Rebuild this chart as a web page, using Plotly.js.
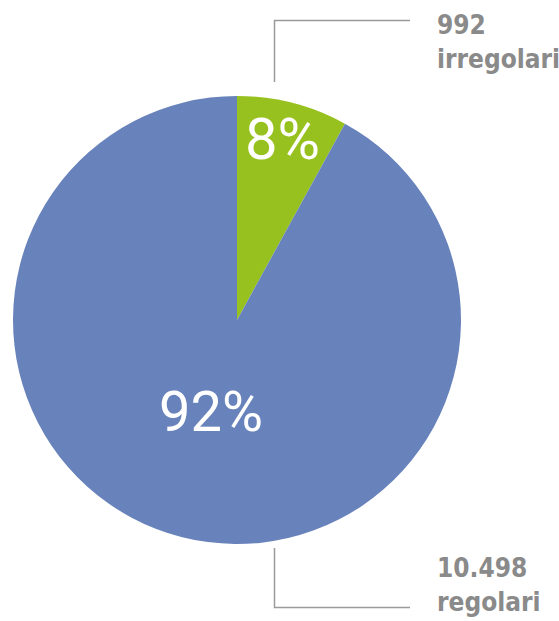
<!DOCTYPE html>
<html>
<head>
<meta charset="utf-8">
<script src="https://cdn.plot.ly/plotly-3.0.1.min.js"></script>
<style>html,body{margin:0;padding:0;background:#fff}#chart{width:559px;height:621px}</style>
</head>
<body>
<div id="chart"></div>
<script>
// Data
const categories = ['irregolari', 'regolari'];
const shares = [8, 92];              // percentage shares as drawn
const countLabels = ['992', '10.498'];
const pctLabels = ['8%', '92%'];
const colors = ['#97c11f', '#6882bb'];

const W = 559, H = 621;
const px = x => x / W;
const py = y => 1 - y / H;

// pie geometry (pixels)
const cx = 237, cy = 320, r = 224;

const trace = {
  type: 'pie',
  values: shares,
  labels: categories,
  textinfo: 'none',
  marker: {colors: colors, line: {width: 0}},
  sort: false,
  direction: 'clockwise',
  rotation: 0,
  hoverinfo: 'none',
  showlegend: false,
  domain: {x: [px(cx - r), px(cx + r)], y: [py(cy + r), py(cy - r)]}
};

const labelFont = {family: 'DejaVu Sans Condensed, Liberation Sans Narrow, sans-serif', size: 26, color: '#8a8a8a', weight: 'bold'};
const pctFont = s => ({family: 'Roboto, Open Sans, sans-serif', size: s, color: '#ffffff'});
const lineStyle = {color: '#9a9a9a', width: 1.5};

const layout = {
  width: W, height: H,
  margin: {l: 0, r: 0, t: 0, b: 0},
  paper_bgcolor: '#ffffff',
  plot_bgcolor: '#ffffff',
  showlegend: false,
  annotations: [
    {xref: 'paper', yref: 'paper', x: px(282), y: py(139), xanchor: 'center', yanchor: 'middle',
     showarrow: false, text: pctLabels[0], font: pctFont(58)},
    {xref: 'paper', yref: 'paper', x: px(211), y: py(412), xanchor: 'center', yanchor: 'middle',
     showarrow: false, text: pctLabels[1], font: pctFont(56)},
    {xref: 'paper', yref: 'paper', x: px(435), y: py(8), xanchor: 'left', yanchor: 'top', align: 'left',
     showarrow: false, text: '<b>' + countLabels[0] + '</b><br><b>' + categories[0] + '</b>', font: labelFont},
    {xref: 'paper', yref: 'paper', x: px(435), y: py(551), xanchor: 'left', yanchor: 'top', align: 'left',
     showarrow: false, text: '<b>' + countLabels[1] + '</b><br><b>' + categories[1] + '</b>', font: labelFont}
  ],
  shapes: [
    {type: 'path', xref: 'paper', yref: 'paper',
     path: `M ${px(274.5)},${py(82)} L ${px(274.5)},${py(20.5)} L ${px(410)},${py(20.5)}`, line: lineStyle},
    {type: 'path', xref: 'paper', yref: 'paper',
     path: `M ${px(274.5)},${py(548)} L ${px(274.5)},${py(607.5)} L ${px(410)},${py(607.5)}`, line: lineStyle}
  ]
};

Plotly.newPlot('chart', [trace], layout, {displayModeBar: false, staticPlot: true});
</script>
</body>
</html>
